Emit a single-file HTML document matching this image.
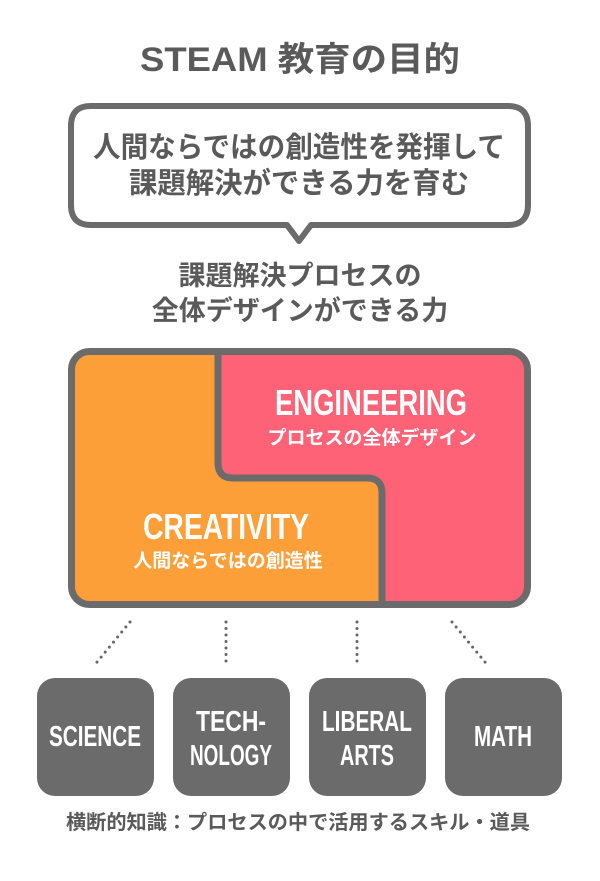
<!DOCTYPE html>
<html><head><meta charset="utf-8"><style>
html,body{margin:0;padding:0;background:#fff;}
svg{display:block;}
.j{font-family:"Liberation Sans","Noto Sans CJK JP",sans-serif;font-weight:bold;}
.c{font-family:"Liberation Sans",sans-serif;font-weight:bold;}
</style></head><body>
<svg width="600" height="881" viewBox="0 0 600 881" xmlns="http://www.w3.org/2000/svg">
<rect width="600" height="881" fill="#fff"/>
<text x="300" y="71" text-anchor="middle" class="j" font-size="34" fill="#5a5a5a" textLength="320" lengthAdjust="spacingAndGlyphs">STEAM 教育の目的</text>
<!-- bubble -->
<path d="M91,106 H508 Q528,106 528,126 V205 Q528,225 508,225 H311 L299,241 L287,225 H91 Q71,225 71,205 V126 Q71,106 91,106 Z" fill="#fff" stroke="#6b6b6b" stroke-width="6" stroke-linejoin="round"/>
<text x="299" y="157" text-anchor="middle" class="j" font-size="29" fill="#5a5a5a" textLength="412" lengthAdjust="spacingAndGlyphs">人間ならではの創造性を発揮して</text>
<text x="299" y="193" text-anchor="middle" class="j" font-size="29" fill="#5a5a5a" textLength="340" lengthAdjust="spacingAndGlyphs">課題解決ができる力を育む</text>
<text x="300" y="285" text-anchor="middle" class="j" font-size="27" fill="#5a5a5a">課題解決プロセスの</text>
<text x="300" y="320" text-anchor="middle" class="j" font-size="27" fill="#5a5a5a">全体デザインができる力</text>
<!-- main box -->
<rect x="71.5" y="351.5" width="456" height="253" rx="18" fill="#fd9f39"/>
<path d="M218,351.5 V463 Q218,478 233,478 H367 Q382,478 382,493 V604.5 H509.5 Q527.5,604.5 527.5,586.5 V369.5 Q527.5,351.5 509.5,351.5 Z" fill="#fe6277"/>
<path d="M218,351.5 V463 Q218,478 233,478 H367 Q382,478 382,493 V604.5" fill="none" stroke="#6b6b6b" stroke-width="7"/>
<rect x="71.5" y="351.5" width="456" height="253" rx="18" fill="none" stroke="#6b6b6b" stroke-width="7"/>
<text x="371" y="415" text-anchor="middle" class="c" font-size="36" fill="#fff" textLength="192" lengthAdjust="spacingAndGlyphs">ENGINEERING</text>
<text x="372" y="444" text-anchor="middle" class="j" font-size="19" fill="#fff">プロセスの全体デザイン</text>
<text x="226" y="539" text-anchor="middle" class="c" font-size="36" fill="#fff" textLength="166" lengthAdjust="spacingAndGlyphs">CREATIVITY</text>
<text x="228" y="567" text-anchor="middle" class="j" font-size="19" fill="#fff">人間ならではの創造性</text>
<!-- dotted -->
<g stroke="#666" stroke-width="3" stroke-linecap="round" stroke-dasharray="0 6.5" fill="none">
<line x1="130" y1="622" x2="93" y2="667"/>
<line x1="226" y1="622" x2="226" y2="667"/>
<line x1="357" y1="622" x2="357" y2="667"/>
<line x1="452" y1="622" x2="489" y2="667"/>
</g>
<!-- boxes -->
<g fill="#6b6b6b">
<rect x="37" y="678" width="117" height="118" rx="18"/>
<rect x="173" y="678" width="117" height="118" rx="18"/>
<rect x="309" y="678" width="117" height="118" rx="18"/>
<rect x="445" y="678" width="117" height="118" rx="18"/>
</g>
<g class="c" font-size="29" fill="#fff" text-anchor="middle">
<text x="95" y="746" textLength="92" lengthAdjust="spacingAndGlyphs">SCIENCE</text>
<text x="231" y="731" textLength="70" lengthAdjust="spacingAndGlyphs">TECH-</text>
<text x="231" y="765" textLength="82" lengthAdjust="spacingAndGlyphs">NOLOGY</text>
<text x="367" y="731" textLength="90" lengthAdjust="spacingAndGlyphs">LIBERAL</text>
<text x="367" y="765" textLength="54" lengthAdjust="spacingAndGlyphs">ARTS</text>
<text x="503" y="746" textLength="58" lengthAdjust="spacingAndGlyphs">MATH</text>
</g>
<text x="298" y="829" text-anchor="middle" class="j" font-size="20" fill="#5a5a5a" textLength="464" lengthAdjust="spacingAndGlyphs">横断的知識：プロセスの中で活用するスキル・道具</text>
</svg>
</body></html>
